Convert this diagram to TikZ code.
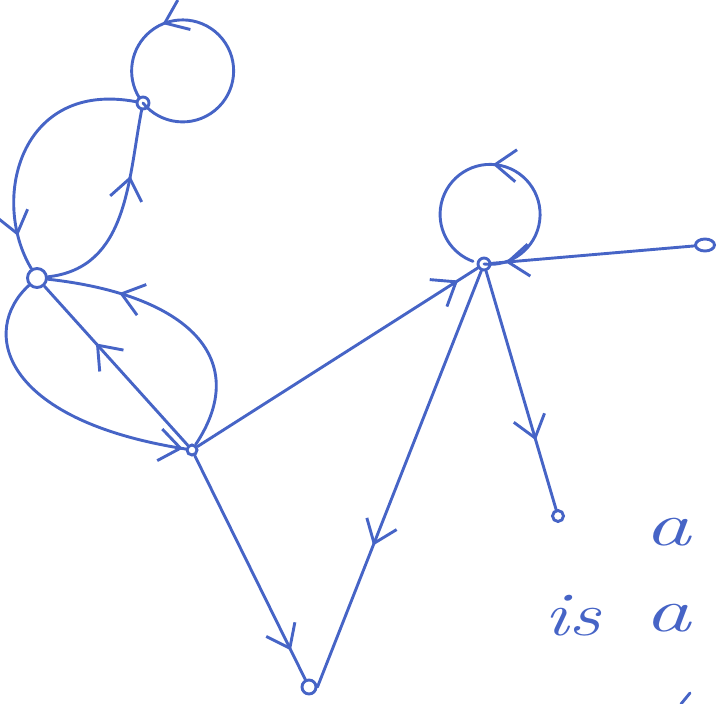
\documentclass[tikz,border=0pt]{standalone}
\usetikzlibrary{arrows.meta,decorations.markings,shapes.geometric}
\definecolor{pen}{RGB}{70,100,198}
\tikzset{
  ink/.style={draw=pen, line width=2.9pt, line cap=round, line join=round},
  vtx/.style={circle, draw=pen, line width=2.9pt, inner sep=0pt, minimum size=#1},
  barb/.style={postaction={decorate}, decoration={markings,
      mark=at position #1 with {\arrow[pen, line width=2.9pt]{Straight Barb[length=21pt,width=32pt]}}}},
  hand/.style={text=pen, inner sep=0pt, font=\fontsize{62}{62}\selectfont\itshape},
}
\begin{document}
\begin{tikzpicture}[x=1pt,y=-1pt]
\useasboundingbox (0,0) rectangle (718,704);
% nodes
\node[vtx=12] (A) at (143,103) {};
\node[vtx=19] (B) at (37,278) {};
\node[vtx=10] (C) at (192,450) {};
\node[vtx=12] (D) at (484,264) {};
\node[vtx=14] (E) at (309,687) {};
\node[vtx=11] (G) at (558,516) {};
\node[ellipse, draw=pen, line width=2.9pt, inner sep=0pt, minimum width=19pt, minimum height=12pt] (F) at (705,245) {};
% loops
\draw[ink, barb=0.72] (A) arc[start angle=141, end angle=-212, radius=51];
\draw[ink, barb=0.53] (D) arc[start angle=97, end angle=-250, radius=50];
% edges among A, B, C
\draw[ink, barb=0.68] (B) .. controls (128,268) and (128,180) .. (A);
\draw[ink, barb=0.86] (A) .. controls (20,80) and (-10,200) .. (B);
\draw[ink, barb=0.99] (B) .. controls (-20,330) and (0,420) .. (C);
\draw[ink, barb=0.64] (C) -- (B);
\draw[ink, barb=0.74] (C) .. controls (252,360) and (190,295) .. (B);
% edges to the right
\draw[ink, barb=0.93] (C) -- (D);
\draw[ink, barb=0.93] (F) -- (D);
\draw[ink, barb=0.66] (D) -- (E.east);
\draw[ink, barb=0.87] (C) -- (E);
\draw[ink, barb=0.71] (D) -- (G);
% handwritten text
\node[hand] (t1) at (668,532) {\scalebox{1.5}[1]{a}};
\node[hand] (t2) at (573,616) {\scalebox{1.3}[1]{is}};
\node[hand] (t3) at (668,618) {\scalebox{1.5}[1]{a}};
\draw[ink] (681,704) -- (690,693);
\end{tikzpicture}
\end{document}
